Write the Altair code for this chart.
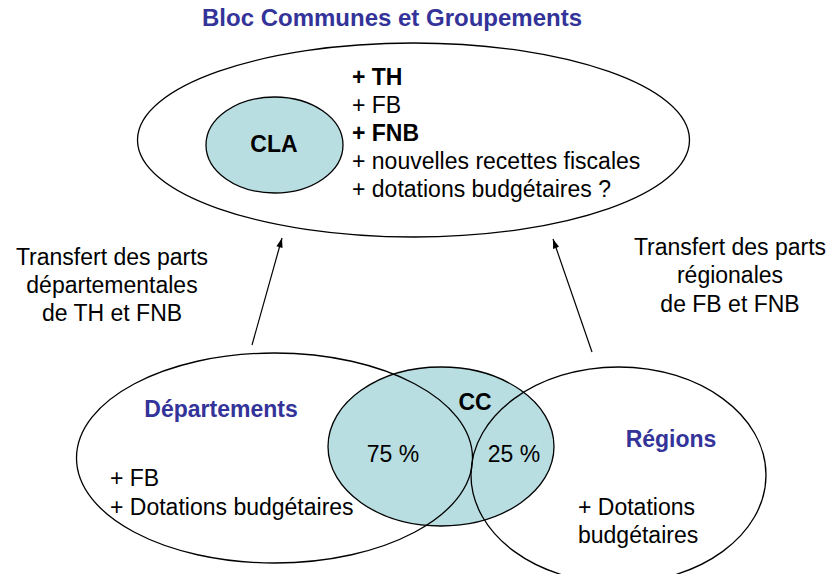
import math
import altair as alt
import pandas as pd

# ---------------- data ----------------
# Ellipses of the diagram (centre, radii in page pixels)
ell_names = ["Bloc Communes et Groupements", "CLA", "CC", "Départements", "Régions"]
ell_cx = [413.5, 274.5, 441.0, 274.5, 618.5]
ell_cy = [140.0, 145.0, 446.5, 458.0, 475.0]
ell_rx = [276.0, 68.5, 113.0, 198.0, 147.5]
ell_ry = [97.0, 48.0, 79.5, 105.0, 108.0]
ell_filled = [False, True, True, False, False]

# Arrows (tail -> tip)
arr_x = [252, 592]
arr_y = [345, 352]
arr_x2 = [282, 553]
arr_y2 = [238, 239]

# Texts
title_txt = ["Bloc Communes et Groupements"]
bloc_lines = ["+ TH", "+ FB", "+ FNB", "+ nouvelles recettes fiscales",
              "+ dotations budgétaires ?"]
bloc_bold = [True, False, True, False, False]
left_label = ["Transfert des parts", "départementales", "de TH et FNB"]
right_label = ["Transfert des parts", "régionales", "de FB et FNB"]
dep_lines = ["+ FB", "+ Dotations budgétaires"]
reg_lines = ["+ Dotations", "budgétaires"]
pct_labels = ["75 %", "25 %"]
source_txt = ["MINEFI – projet de loi de finances (avril 2008)"]

# ---------------- layout / style ----------------
FONT = "Liberation Sans"
BLUE = "#333399"
TEAL = "#b8dee2"
FS = 23
W, H = 819, 566
X0, Y0 = 8, 8

xs = alt.Scale(domain=[X0, X0 + W], nice=False, zero=False)
ys = alt.Scale(domain=[Y0, Y0 + H], nice=False, zero=False, reverse=True)


def X(f):
    return alt.X(f"{f}:Q", scale=xs, axis=None)


def Y(f):
    return alt.Y(f"{f}:Q", scale=ys, axis=None)


K = 0.5523


def ellipse_path(b):
    f = lambda v: f"{v:.4f}"
    return (f"M -1 0 C -1 {f(-K*b)} {f(-K)} {f(-b)} 0 {f(-b)} "
            f"C {f(K)} {f(-b)} 1 {f(-K*b)} 1 0 "
            f"C 1 {f(K*b)} {f(K)} {f(b)} 0 {f(b)} "
            f"C {f(-K)} {f(b)} -1 {f(K*b)} -1 0 Z")


ell_df = pd.DataFrame({
    "name": ell_names,
    "cx": ell_cx,
    "cy": ell_cy,
    "path": [ellipse_path(ry / rx) for rx, ry in zip(ell_rx, ell_ry)],
    "size": [(2 * rx) ** 2 for rx in ell_rx],
    "fill": [TEAL if f else "transparent" for f in ell_filled],
})

ellipses = alt.Chart(ell_df).mark_point(
    filled=True, stroke="black", strokeWidth=1.3, opacity=1
).encode(
    x=X("cx"), y=Y("cy"),
    shape=alt.Shape("path:N", scale=None),
    size=alt.Size("size:Q", scale=None),
    fill=alt.Fill("fill:N", scale=None),
)

arr_df = pd.DataFrame({"x": arr_x, "y": arr_y, "x2": arr_x2, "y2": arr_y2})
arr_df["angle"] = [
    (math.degrees(math.atan2(x2 - x, -(y2 - y))) + 360) % 360
    for x, y, x2, y2 in zip(arr_x, arr_y, arr_x2, arr_y2)
]

arrow_lines = alt.Chart(arr_df).mark_rule(color="black", strokeWidth=1.2).encode(
    x=X("x"), y=Y("y"), x2="x2:Q", y2="y2:Q"
)
arrow_heads = alt.Chart(arr_df).mark_point(
    shape="M 0 0 L 0.42 1.25 L -0.42 1.25 Z", filled=True, color="black",
    size=225, opacity=1
).encode(
    x=X("x2"), y=Y("y2"), angle=alt.Angle("angle:Q", scale=None)
)


def text_layer(texts, xpos, ypos, align="left", bold=False, color="black",
               size=FS, clip=False):
    df = pd.DataFrame({"t": texts, "x": xpos, "y": ypos})
    return alt.Chart(df).mark_text(
        align=align, baseline="alphabetic", font=FONT, fontSize=size,
        fontWeight="bold" if bold else "normal", color=color, clip=clip
    ).encode(x=X("x"), y=Y("y"), text="t:N")


line_y_bloc = [85, 113, 141, 169, 197]
layers = [
    ellipses,
    arrow_lines,
    arrow_heads,
    text_layer(title_txt, [392], [26], align="center", bold=True, color=BLUE, size=24),
    text_layer([t for t, b in zip(bloc_lines, bloc_bold) if b], [352] * 2,
               [y for y, b in zip(line_y_bloc, bloc_bold) if b], bold=True),
    text_layer([t for t, b in zip(bloc_lines, bloc_bold) if not b], [352] * 3,
               [y for y, b in zip(line_y_bloc, bloc_bold) if not b]),
    text_layer(["CLA"], [274], [152], align="center", bold=True),
    text_layer(left_label, [112] * 3, [265, 293, 321], align="center"),
    text_layer(right_label, [730] * 3, [255, 283, 312], align="center"),
    text_layer(["Départements"], [221], [417], align="center", bold=True, color=BLUE),
    text_layer(dep_lines, [110] * 2, [486, 515]),
    text_layer(["CC"], [475], [410], align="center", bold=True),
    text_layer(pct_labels, [393, 514], [462, 462], align="center"),
    text_layer(["Régions"], [671], [447], align="center", bold=True, color=BLUE),
    text_layer(reg_lines, [578] * 2, [515, 543]),
    text_layer(source_txt, [55], [593], size=15, clip=True),
]

chart = alt.layer(*layers).properties(
    width=W, height=H, padding=0,
    autosize=alt.AutoSizeParams(type="none"),
    background="white",
).configure_view(stroke=None)

chart.save("out.html", embed_options={"renderer": "svg", "actions": False})
